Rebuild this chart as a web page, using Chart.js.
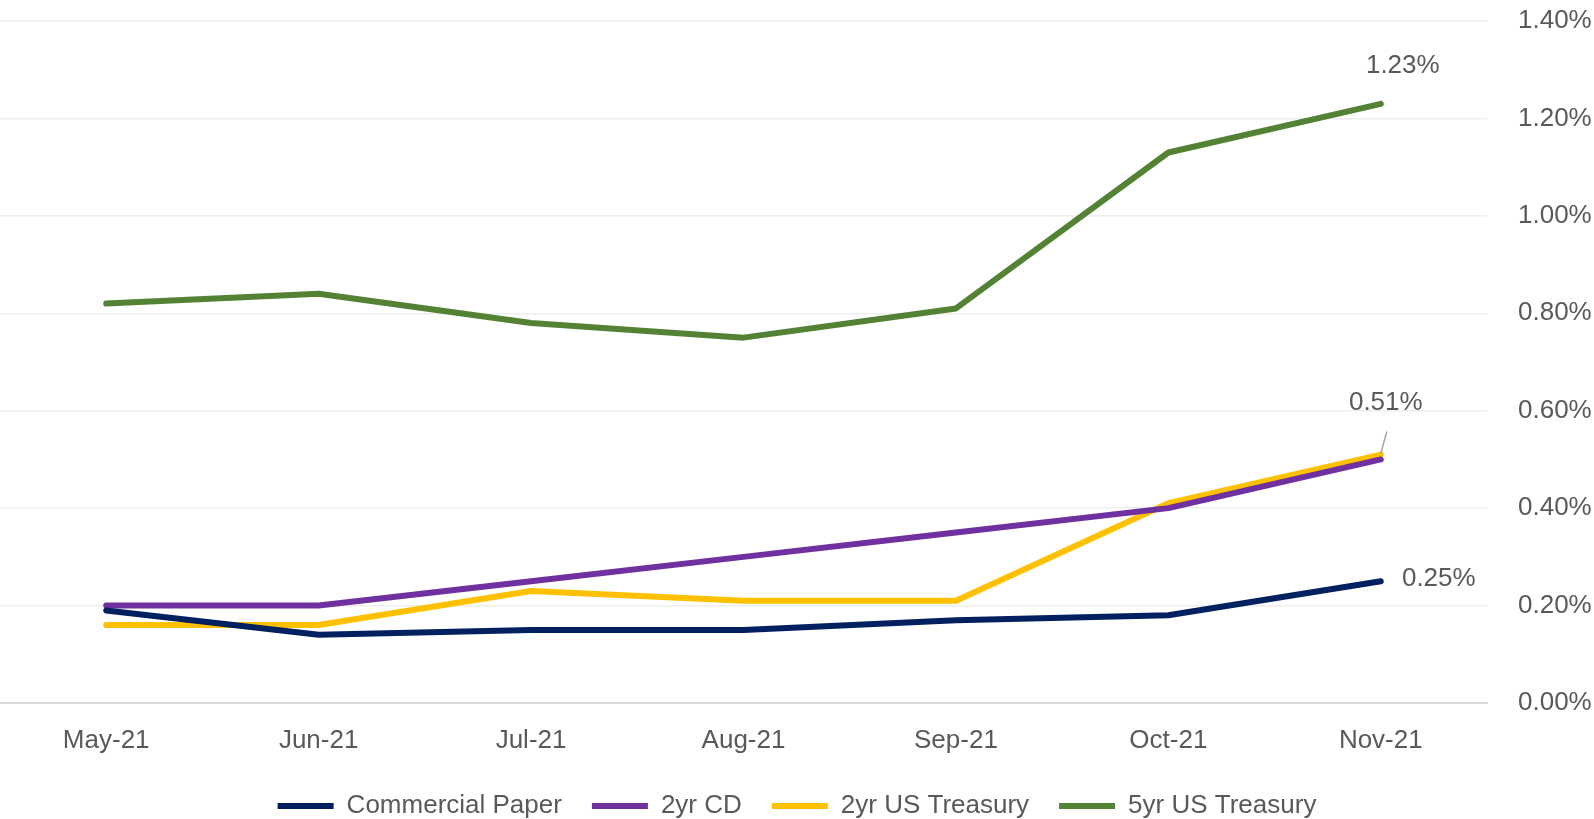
<!DOCTYPE html>
<html lang="en">
<head>
  <meta charset="UTF-8" />
  <title>Yields</title>
  <script src="https://cdn.jsdelivr.net/npm/chart.js"></script>
  <style>
    html, body { margin: 0; padding: 0; background: #fff; }
    .wrap { width: 1594px; height: 819px; position: relative; }
  </style>
</head>
<body>
  <div class="wrap"><canvas id="chart"></canvas></div>

  <script>
    const months = ['May-21', 'Jun-21', 'Jul-21', 'Aug-21', 'Sep-21', 'Oct-21', 'Nov-21'];
    const commercialPaper = [0.19, 0.14, 0.15, 0.15, 0.17, 0.18, 0.25];
    const cd2yr = [0.20, 0.20, 0.25, 0.30, 0.35, 0.40, 0.50];
    const treasury2yr = [0.16, 0.16, 0.23, 0.21, 0.21, 0.41, 0.51];
    const treasury5yr = [0.82, 0.84, 0.78, 0.75, 0.81, 1.13, 1.23];
    const yTicks = [0, 0.2, 0.4, 0.6, 0.8, 1.0, 1.2, 1.4];

    const textColor = '#595959';
    const fontFamily = '"Liberation Sans", Arial, sans-serif';

    // end-of-line value labels (dataset index, offset from last point, leader line)
    const endLabels = [
      { ds: 3, dx: 22, dy: -38, leader: false },
      { ds: 2, dx: 5, dy: -52, leader: true },
      { ds: 0, dx: 58, dy: -2, leader: false }
    ];

    const endLabelPlugin = {
      id: 'endLabels',
      afterDatasetsDraw(chart) {
        const ctx = chart.ctx;
        ctx.save();
        ctx.font = '26px ' + fontFamily;
        ctx.fillStyle = textColor;
        ctx.textAlign = 'center';
        ctx.textBaseline = 'middle';
        endLabels.forEach(l => {
          const meta = chart.getDatasetMeta(l.ds);
          const i = meta.data.length - 1;
          const pt = meta.data[i];
          const val = chart.data.datasets[l.ds].data[i];
          if (l.leader) {
            ctx.strokeStyle = '#A6A6A6';
            ctx.lineWidth = 1.5;
            ctx.beginPath();
            ctx.moveTo(pt.x + 6, pt.y - 23);
            ctx.lineTo(pt.x, pt.y - 1);
            ctx.stroke();
          }
          ctx.fillText(val.toFixed(2) + '%', pt.x + l.dx, pt.y + l.dy);
        });
        ctx.restore();
      }
    };

    const ds = (label, data, color) => ({
      label, data,
      borderColor: color,
      backgroundColor: color,
      borderWidth: 6,
      pointRadius: 0,
      borderCapStyle: 'round',
      borderJoinStyle: 'round',
      tension: 0
    });

    new Chart(document.getElementById('chart'), {
      type: 'line',
      data: {
        labels: months,
        datasets: [
          ds('Commercial Paper', commercialPaper, '#002060'),
          ds('2yr CD', cd2yr, '#7030A0'),
          ds('2yr US Treasury', treasury2yr, '#FFC000'),
          ds('5yr US Treasury', treasury5yr, '#548235')
        ]
      },
      plugins: [endLabelPlugin],
      options: {
        responsive: true,
        maintainAspectRatio: false,
        animation: false,
        layout: { padding: { top: 21, left: 0, right: 0, bottom: -10 } },
        plugins: {
          legend: {
            position: 'bottom',
            labels: {
              boxWidth: 56,
              boxHeight: 6,
              padding: 30,
              color: textColor,
              font: { family: fontFamily, size: 26 },
              generateLabels: chart => Chart.defaults.plugins.legend.labels.generateLabels(chart)
                .map(item => Object.assign(item, { lineWidth: 0 }))
            }
          },
          tooltip: { enabled: false }
        },
        scales: {
          x: {
            offset: true,
            afterFit: axis => { axis.height = 60; },
            grid: { display: false, drawTicks: false },
            border: { display: true, color: '#D9D9D9', width: 2 },
            ticks: { color: textColor, font: { family: fontFamily, size: 26 }, padding: 22, maxRotation: 0 }
          },
          y: {
            position: 'right',
            min: 0,
            max: 1.4,
            afterBuildTicks: axis => { axis.ticks = yTicks.map(v => ({ value: v })); },
            afterFit: axis => { axis.width = 107; axis.paddingTop = 0; axis.paddingBottom = 0; },
            grid: { color: '#EEEEEE', lineWidth: 1.5, drawTicks: false },
            border: { display: false },
            ticks: {
              color: textColor,
              font: { family: fontFamily, size: 26 },
              padding: 31,
              callback: v => v.toFixed(2) + '%'
            }
          }
        }
      }
    });
  </script>
</body>
</html>
